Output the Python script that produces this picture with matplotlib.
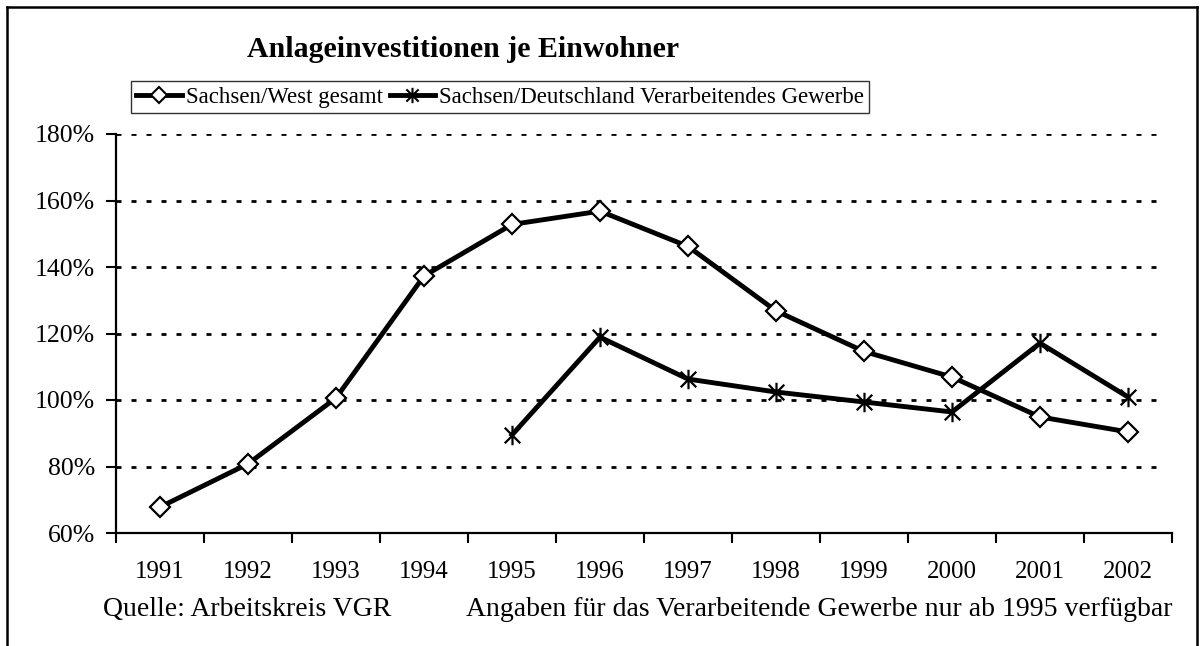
import matplotlib.pyplot as plt
from matplotlib.path import Path
from matplotlib.lines import Line2D

plt.rcParams['font.family'] = ['Liberation Serif', 'DejaVu Serif']

# data
years = ['1991', '1992', '1993', '1994', '1995', '1996',
         '1997', '1998', '1999', '2000', '2001', '2002']
west_gesamt = [67.8, 80.8, 100.6, 137.3, 152.8, 156.8,
               146.2, 126.8, 114.6, 106.9, 94.9, 90.4]
verarb_years = ['1995', '1996', '1997', '1998', '1999', '2000', '2001', '2002']
verarb_gewerbe = [89.5, 118.9, 106.3, 102.4, 99.4, 96.4, 117.1, 100.9]

yticks = [60, 80, 100, 120, 140, 160, 180]

# asterisk marker like Excel's (X plus vertical bar)
star = Path([(-1, -1), (1, 1), (-1, 1), (1, -1), (0, -1.25), (0, 1.25)],
            [Path.MOVETO, Path.LINETO, Path.MOVETO, Path.LINETO, Path.MOVETO, Path.LINETO])

fig = plt.figure(figsize=(12.04, 6.46), dpi=100)
ax = fig.add_axes([116/1204, 1-533/646, (1172-116)/1204, (533-134)/646])

x_all = list(range(len(years)))
x_verarb = [years.index(y) for y in verarb_years]

ax.plot(x_all, west_gesamt, color='black', lw=3.5, marker='D', ms=10,
        mfc='white', mec='black', mew=1.6, zorder=4)
ax.plot(x_verarb, verarb_gewerbe, color='black', lw=3.5, marker=star, ms=14,
        mec='black', mew=1.6, zorder=3)

ax.set_xlim(-0.5, len(years)-0.5)
ax.set_ylim(60, 180)
ax.set_yticks(yticks)
ax.set_yticklabels([f'{v}%' for v in yticks], fontsize=18.5)
ax.set_xticks(x_all)
ax.set_xticklabels(years, fontsize=18)
ax.set_xticks([i - 0.5 for i in range(len(years)+1)], minor=True)
ax.tick_params(axis='x', which='major', length=0, pad=20)
ax.tick_params(axis='x', which='minor', length=7, width=1.5, direction='out')
ax.tick_params(axis='y', length=7, width=1.5, direction='out', pad=8)

for v in yticks[1:]:
    ax.axhline(v, xmax=0.99, color='black', lw=2, ls=(0, (1.8, 3.6)), zorder=1)

for s in ['top', 'right']:
    ax.spines[s].set_visible(False)
for s in ['left', 'bottom']:
    ax.spines[s].set_linewidth(1.6)

fig.text(463/1204, 1-57/646, 'Anlageinvestitionen je Einwohner',
         ha='center', va='baseline', fontsize=21.5, fontweight='bold')

handles = [
    Line2D([], [], color='black', lw=3.5, marker='D', ms=8, mfc='white', mec='black', mew=1.5),
    Line2D([], [], color='black', lw=3.5, marker=star, ms=11, mec='black', mew=1.5),
]
leg = fig.legend(handles, ['Sachsen/West gesamt', 'Sachsen/Deutschland Verarbeitendes Gewerbe'],
                 loc='center', bbox_to_anchor=(500/1204, 1-97/646), ncol=2,
                 fontsize=16.5, frameon=True, fancybox=False, edgecolor='black',
                 handlelength=2.0, handletextpad=0.15, columnspacing=0.3,
                 borderpad=0.25, borderaxespad=0)
leg.get_frame().set_linewidth(1.0)

fig.text(103/1204, 1-616/646, 'Quelle: Arbeitskreis VGR',
         ha='left', va='baseline', fontsize=20)
fig.text(1173/1204, 1-616/646, 'Angaben für das Verarbeitende Gewerbe nur ab 1995 verfügbar',
         ha='right', va='baseline', fontsize=20)

# outer frame
for xs, ys in [([7, 7], [0, 7]), ([7, 1197], [7, 7]), ([1197, 1197], [7, 0])]:
    fig.add_artist(Line2D([x/1204 for x in xs], [1 - y/646 if y else 0 for y in ys],
                          color='black', lw=1.8, transform=fig.transFigure))

fig.savefig('out.png', dpi=100)
